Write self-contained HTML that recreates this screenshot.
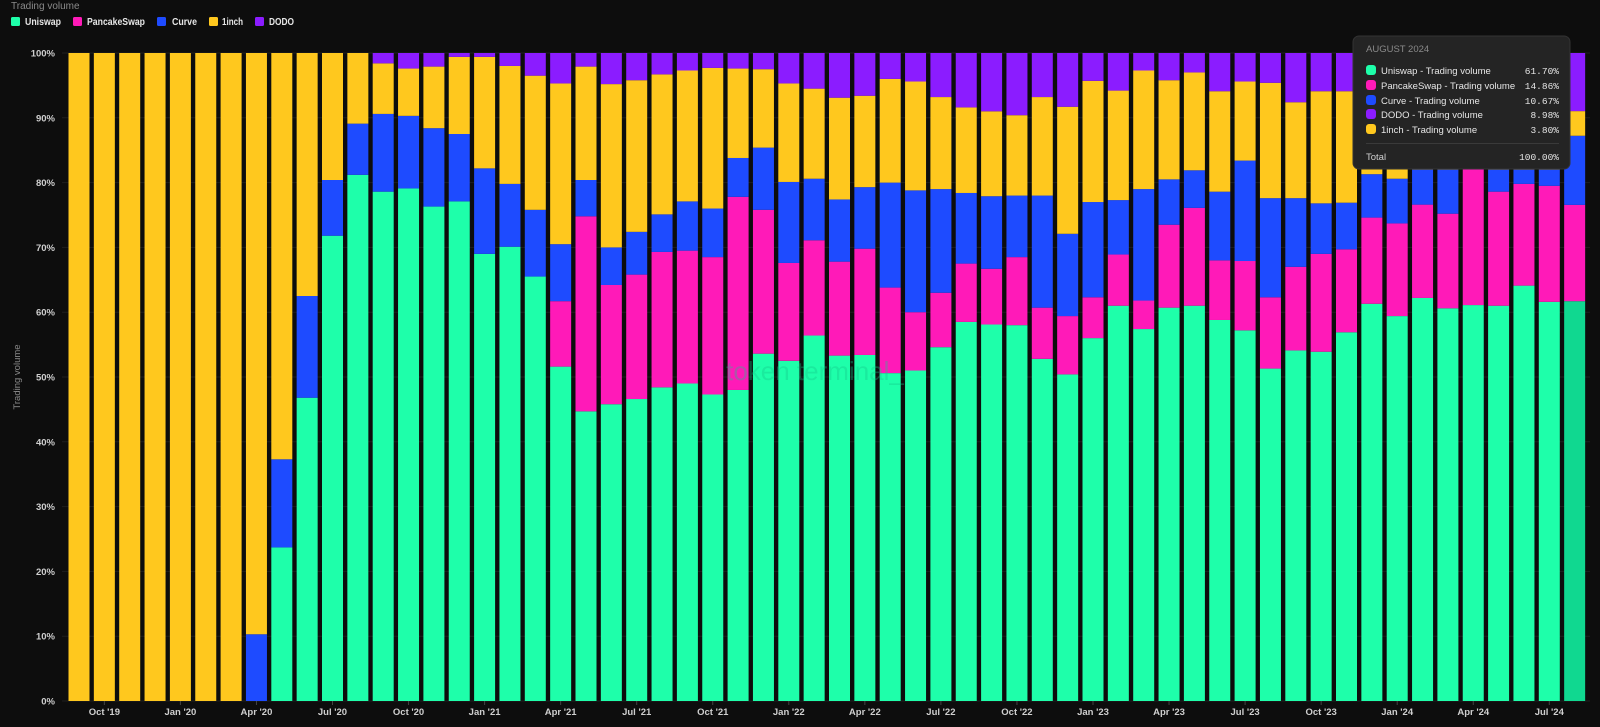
<!DOCTYPE html>
<html><head><meta charset="utf-8"><style>
html,body{margin:0;padding:0;background:#0d0d0d;width:1600px;height:727px;overflow:hidden;font-family:"Liberation Sans",sans-serif}
</style></head><body>
<svg id="s" width="1600" height="727" xmlns="http://www.w3.org/2000/svg" style="position:absolute;left:0;top:0">
<rect width="1600" height="727" fill="#0d0d0d"/>
<text x="11" y="9" fill="#8a8a8a" font-size="10" font-family="Liberation Sans">Trading volume</text>
<g font-size="10" fill="#e6e6e6" font-family="Liberation Sans" font-weight="bold">
<rect x="11" y="17" width="9" height="9" rx="1.5" fill="#1effaa"/><text x="25" y="25" textLength="36" lengthAdjust="spacingAndGlyphs">Uniswap</text>
<rect x="73" y="17" width="9" height="9" rx="1.5" fill="#ff1ab8"/><text x="87" y="25" textLength="58" lengthAdjust="spacingAndGlyphs">PancakeSwap</text>
<rect x="157" y="17" width="9" height="9" rx="1.5" fill="#1e4bff"/><text x="172" y="25" textLength="25" lengthAdjust="spacingAndGlyphs">Curve</text>
<rect x="209" y="17" width="9" height="9" rx="1.5" fill="#ffc81e"/><text x="222" y="25" textLength="21" lengthAdjust="spacingAndGlyphs">1inch</text>
<rect x="255" y="17" width="9" height="9" rx="1.5" fill="#8b1cff"/><text x="269" y="25" textLength="25" lengthAdjust="spacingAndGlyphs">DODO</text>
</g>
<text transform="translate(20,377) rotate(-90)" text-anchor="middle" fill="#8a8a8a" font-size="9.5" font-family="Liberation Sans">Trading volume</text>
<g id="grid"></g>
<g id="bars"></g>
<text x="815" y="380" text-anchor="middle" fill="#14c88a" opacity="0.35" font-size="26" font-family="Liberation Sans">token terminal_</text>
<g id="xl"></g>
<g>
<rect x="1353" y="36" width="217" height="133" rx="6" fill="#242424" stroke="#333" stroke-width="1"/>
<text x="1366" y="52" fill="#8a8a8a" font-size="9.5" font-family="Liberation Sans">AUGUST 2024</text>
<g font-size="9.5" fill="#e6e6e6" font-family="Liberation Sans">
<rect x="1366" y="65" width="10" height="10" rx="3" fill="#1effaa"/><text x="1381" y="74">Uniswap - Trading volume</text><text x="1559" y="74" text-anchor="end" font-family="Liberation Mono">61.70%</text>
<rect x="1366" y="80" width="10" height="10" rx="3" fill="#ff1ab8"/><text x="1381" y="89">PancakeSwap - Trading volume</text><text x="1559" y="89" text-anchor="end" font-family="Liberation Mono">14.86%</text>
<rect x="1366" y="95" width="10" height="10" rx="3" fill="#1e4bff"/><text x="1381" y="104">Curve - Trading volume</text><text x="1559" y="104" text-anchor="end" font-family="Liberation Mono">10.67%</text>
<rect x="1366" y="109" width="10" height="10" rx="3" fill="#8b1cff"/><text x="1381" y="118">DODO - Trading volume</text><text x="1559" y="118" text-anchor="end" font-family="Liberation Mono">8.98%</text>
<rect x="1366" y="124" width="10" height="10" rx="3" fill="#ffc81e"/><text x="1381" y="133">1inch - Trading volume</text><text x="1559" y="133" text-anchor="end" font-family="Liberation Mono">3.80%</text>
<rect x="1366" y="143" width="193" height="1" fill="#3a3a3a"/>
<text x="1366" y="160" fill="#cfcfcf">Total</text><text x="1559" y="160" text-anchor="end" font-family="Liberation Mono">100.00%</text>
</g></g>
</svg>
<script>
var D=[[0,0,0,100],[0,0,0,100],[0,0,0,100],[0,0,0,100],[0,0,0,100],[0,0,0,100],[0,0,0,100],
[0,0,10.3,100],[23.7,23.7,37.3,100],[46.8,46.8,62.5,100],[71.8,71.8,80.4,100],[81.2,81.2,89.1,100],
[78.6,78.6,90.6,98.4],[79.1,79.1,90.3,97.6],[76.3,76.3,88.4,97.9],[77.1,77.1,87.5,99.4],[69,69,82.2,99.4],
[70.1,70.1,79.8,98],[65.5,65.5,75.8,96.5],[51.6,61.7,70.5,95.3],[44.7,74.8,80.4,97.9],[45.8,64.2,70,95.2],
[46.6,65.8,72.4,95.8],[48.4,69.3,75.1,96.7],[49,69.5,77.1,97.3],[47.3,68.5,76,97.7],[48,77.8,83.8,97.6],
[53.6,75.8,85.4,97.5],[52.5,67.6,80.1,95.3],[56.4,71.1,80.6,94.5],[53.3,67.8,77.4,93.1],[53.4,69.8,79.3,93.4],
[50.6,63.8,80,96],[51,60,78.8,95.6],[54.6,63,79,93.2],[58.5,67.5,78.4,91.6],[58.1,66.7,77.9,91],
[58,68.5,78,90.4],[52.8,60.7,78,93.2],[50.4,59.4,72.1,91.7],[56,62.3,77,95.7],[61,68.9,77.3,94.2],
[57.4,61.8,79,97.3],[60.7,73.5,80.5,95.8],[61,76.1,81.9,97],[58.8,68,78.6,94.1],[57.2,67.9,83.4,95.6],
[51.3,62.3,77.6,95.4],[54.1,67,77.6,92.4],[53.9,69,76.8,94.1],[56.9,69.7,76.9,94.1],[61.3,74.6,81.3,96],
[59.4,73.7,80.6,95],[62.2,76.6,82,96],[60.6,75.2,82,96],[61.1,82.6,85,96],[61,78.6,82,96],[64.1,79.8,82,96],
[61.6,79.5,82,96],[61.7,76.56,87.23,91.03]];
var NS="http://www.w3.org/2000/svg";
function el(t,a,p,txt){var e=document.createElementNS(NS,t);for(var k in a)e.setAttribute(k,a[k]);if(txt)e.textContent=txt;p.appendChild(e);return e;}
function Y(p){return 701-6.48*p;}
var g=document.getElementById('grid');
for(var i=0;i<=10;i++){var y=Y(i*10);el('line',{x1:62,x2:1590,y1:y,y2:y,stroke:'#1f1f1f','stroke-width':1},g);
el('text',{x:55,y:y+3.5,'text-anchor':'end',fill:'#cfcfcf','font-size':'9.5','font-weight':'bold','font-family':'Liberation Sans'},g,(i*10)+'%');}
var b=document.getElementById('bars');
var C=['#1effaa','#ff1ab8','#1e4bff','#ffc81e','#8b1cff'];
for(var i=0;i<D.length;i++){var x=68.5+i*25.35,d=D[i],lv=[0,d[0],d[1],d[2],d[3],100];
for(var k=0;k<5;k++){if(lv[k+1]-lv[k]<=0.01)continue;var col=C[k];if(i==59&&k==0)col='#10d890';
el('rect',{x:x,y:Y(lv[k+1]),width:21,height:(lv[k+1]-lv[k])*6.48,fill:col},b);}}
var xl=document.getElementById('xl');
var L=[[1,"Oct '19"],[4,"Jan '20"],[7,"Apr '20"],[10,"Jul '20"],[13,"Oct '20"],[16,"Jan '21"],[19,"Apr '21"],[22,"Jul '21"],[25,"Oct '21"],[28,"Jan '22"],[31,"Apr '22"],[34,"Jul '22"],[37,"Oct '22"],[40,"Jan '23"],[43,"Apr '23"],[46,"Jul '23"],[49,"Oct '23"],[52,"Jan '24"],[55,"Apr '24"],[58,"Jul '24"]];
L.forEach(function(l){var cx=79+l[0]*25.35;el('line',{x1:cx,x2:cx,y1:701,y2:705,stroke:'#444'},xl);
el('text',{x:cx,y:715,'text-anchor':'middle',fill:'#cfcfcf','font-size':'9.5','font-weight':'bold','font-family':'Liberation Sans'},xl,l[1]);});
</script>
</body></html>
